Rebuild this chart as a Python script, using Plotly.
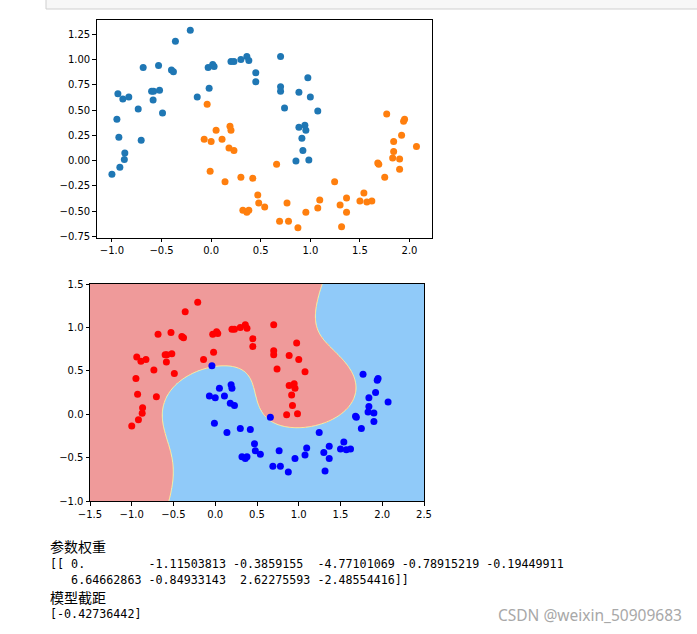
import numpy as np
import plotly.graph_objects as go

# ---- data ----
# class 0 (upper moon)
X0 = [-0.21, -0.36, -0.685, -0.53, -0.40, -0.38, -0.94, -0.89, -0.83, -0.735, -0.95, -0.60, -0.58,
      -0.52, -0.585, -0.49, -0.14, -0.02, -0.03, 0.016, 0.03, 0.20, 0.23, 0.30, 0.36, 0.38, 0.45,
      0.45, 0.70, 0.975, 0.70, 0.70, 0.885, 1.0, 0.74, 1.075, 0.885, 0.945, 0.955, 0.915, 0.925,
      0.855, 0.985, -0.93, -0.705, -0.87, -0.875, -0.92, -1.0]
Y0 = [1.29, 1.18, 0.92, 0.94, 0.895, 0.88, 0.66, 0.61, 0.63, 0.51, 0.41, 0.685, 0.685,
      0.695, 0.60, 0.47, 0.63, 0.715, 0.92, 0.95, 0.93, 0.98, 0.98, 1.0, 1.03, 0.99, 0.87,
      0.78, 1.03, 0.82, 0.73, 0.685, 0.675, 0.63, 0.52, 0.49, 0.33, 0.35, 0.30, 0.22, 0.10,
      -0.005, 0.005, 0.23, 0.20, 0.075, 0.01, -0.065, -0.135]
# class 1 (lower moon)
X1 = [-0.04, 0.05, 0.19, 0.20, -0.07, 0.0, 0.11, 0.18, 0.23, -0.01, 0.14, 0.30, 0.42, 0.47,
      0.48, 0.54, 0.32, 0.36, 0.38, 0.66, 0.765, 0.69, 0.78, 0.875, 0.955, 1.075, 1.095, 1.245,
      1.30, 1.365, 1.365, 1.315, 1.50, 1.54, 1.57, 1.62, 1.68, 1.69, 1.75, 1.83, 1.84, 1.84,
      1.90, 1.90, 1.92, 2.07, 1.77, 1.95, 1.94]
Y1 = [0.557, 0.30, 0.34, 0.30, 0.21, 0.19, 0.21, 0.125, 0.10, -0.105, -0.21, -0.165, -0.175,
      -0.34, -0.42, -0.46, -0.49, -0.51, -0.49, -0.035, -0.42, -0.60, -0.60, -0.665, -0.51,
      -0.47, -0.39, -0.21, -0.44, -0.37, -0.51, -0.655, -0.40, -0.32, -0.41, -0.40, -0.025,
      -0.035, -0.165, 0.025, 0.09, 0.19, 0.015, -0.085, 0.25, 0.14, 0.46, 0.41, 0.39]

# model printed under the chart
WEIGHTS = [0., -1.11503813, -0.3859155, -4.77101069, -0.78915219, -0.19449911,
           6.64662863, -0.84933143, 2.62275593, -2.48554416]
INTERCEPT = -0.42736442

TITLE_W = "参数权重"
TITLE_B = "模型截距"
LINE_W1 = "[[ 0.         -1.11503813 -0.3859155  -4.77101069 -0.78915219 -0.19449911"
LINE_W2 = "   6.64662863 -0.84933143  2.62275593 -2.48554416]]"
LINE_B = "[-0.42736442]"
WATERMARK = "CSDN @weixin_50909683"


def poly(x, y):
    return np.stack([np.ones_like(x), x, y, x ** 2, x * y, y ** 2,
                     x ** 3, x ** 2 * y, x * y ** 2, y ** 3], axis=-1)


xa = np.array(X0 + X1, dtype=float)
ya = np.array(Y0 + Y1, dtype=float)
F = poly(xa, ya)
mu = F.mean(axis=0)
sd = F.std(axis=0)
sd[sd == 0] = 1.0

gx = np.linspace(-1.5, 2.5, 401)
gy = np.linspace(-1.0, 1.5, 251)
GX, GY = np.meshgrid(gx, gy)
Z = ((poly(GX, GY) - mu) / sd) @ np.array(WEIGHTS) + INTERCEPT
LAB = (Z > 0).astype(int)


def rng(v):
    lo, hi = min(v), max(v)
    m = (hi - lo) * 0.05
    return [lo - m, hi + m]


W, H = 697, 634
fig = go.Figure()

# top scatter
fig.add_trace(go.Scatter(x=X0, y=Y0, mode="markers", xaxis="x", yaxis="y",
                         marker=dict(color="#1f77b4", size=7), showlegend=False))
fig.add_trace(go.Scatter(x=X1, y=Y1, mode="markers", xaxis="x", yaxis="y",
                         marker=dict(color="#ff7f0e", size=7), showlegend=False))

# bottom decision regions
fig.add_trace(go.Heatmap(x=gx, y=gy, z=LAB, xaxis="x2", yaxis="y2", zmin=0, zmax=1,
                         colorscale=[[0, "#EF9A9A"], [1, "#90CAF9"]], showscale=False,
                         hoverinfo="skip"))
fig.add_trace(go.Contour(x=gx, y=gy, z=Z, xaxis="x2", yaxis="y2",
                         contours=dict(start=0, end=0, size=1, coloring="none"),
                         line=dict(color="#FFF59D", width=1), showscale=False,
                         hoverinfo="skip"))
fig.add_trace(go.Scatter(x=X0, y=Y0, mode="markers", xaxis="x2", yaxis="y2",
                         marker=dict(color="#ff0000", size=7), showlegend=False))
fig.add_trace(go.Scatter(x=X1, y=Y1, mode="markers", xaxis="x2", yaxis="y2",
                         marker=dict(color="#0000ff", size=7), showlegend=False))

axstyle = dict(showline=True, linecolor="black", linewidth=1, mirror=True,
               ticks="outside", ticklen=3.5, tickwidth=0.8, tickcolor="black",
               showgrid=False, zeroline=False, automargin=False,
               tickfont=dict(family="DejaVu Sans", size=10, color="black"))

fig.update_layout(
    width=W, height=H, margin=dict(l=0, r=0, t=0, b=0, autoexpand=False),
    paper_bgcolor="white", plot_bgcolor="white", showlegend=False,
    xaxis=dict(domain=[96.7 / W, 431.7 / W], range=rng(X0 + X1), dtick=0.5,
               tick0=0, tickformat=".1f", anchor="y", **axstyle),
    yaxis=dict(domain=[1 - 237.7 / H, 1 - 20.3 / H], range=rng(Y0 + Y1), dtick=0.25,
               tick0=0, tickformat=".2f", anchor="x", **axstyle),
    xaxis2=dict(domain=[90 / W, 424 / W], range=[-1.5, 2.5], dtick=0.5, tick0=0,
                tickformat=".1f", anchor="y2", **axstyle),
    yaxis2=dict(domain=[1 - 501 / H, 1 - 284 / H], range=[-1.0, 1.5], dtick=0.5, tick0=0,
                tickformat=".1f", anchor="x2", **axstyle),
)

fig.add_shape(type="rect", xref="paper", yref="paper", x0=46 / W, x1=1.01,
              y0=1 - 9 / H, y1=1.02, fillcolor="#f7f7f7",
              line=dict(color="#cfcfcf", width=1), layer="below")


def nb(s):
    return s.replace(" ", "\u00a0")


texts = [
    (TITLE_W, 545.5, "Noto Sans CJK SC", 14),
    (nb(LINE_W1), 563.5, "DejaVu Sans Mono", 11.7),
    (nb(LINE_W2), 579.5, "DejaVu Sans Mono", 11.7),
    (TITLE_B, 597.0, "Noto Sans CJK SC", 14),
    (nb(LINE_B), 613.5, "DejaVu Sans Mono", 11.7),
]
for t, yc, fam, sz in texts:
    fig.add_annotation(text=t, xref="paper", yref="paper", x=48 / W, y=1 - yc / H,
                       xanchor="left", yanchor="middle", showarrow=False,
                       font=dict(family=fam, size=sz, color="black"))

fig.add_annotation(text=WATERMARK, xref="paper", yref="paper", x=684 / W, y=1 - 615 / H,
                   xanchor="right", yanchor="middle", showarrow=False,
                   font=dict(family="Noto Sans", size=15.5, color="#a8a8a8"))

fig.write_html("out.html")
